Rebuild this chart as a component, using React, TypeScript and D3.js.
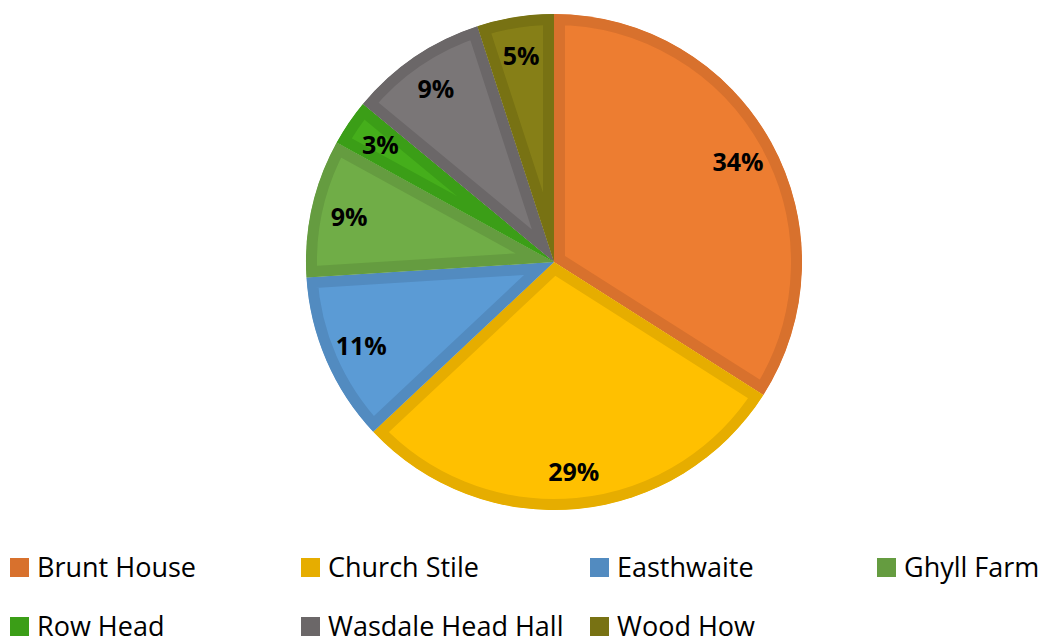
import React from "react";
import * as d3 from "d3";

const categories = ["Brunt House", "Church Stile", "Easthwaite", "Ghyll Farm", "Row Head", "Wasdale Head Hall", "Wood How"];
const values = [34, 29, 11, 9, 3, 9, 5];
const fillColors = ["#ED7D31", "#FFC000", "#5B9BD5", "#70AD47", "#45AE1B", "#7A7677", "#867F17"];
const borderColors = ["#D8712D", "#E6AD00", "#528BC0", "#659C40", "#3B9E17", "#6B6768", "#787213"];

const W = 1049;
const H = 641;
const cx = 554;
const cy = 262;
const R = 248;
const labelR = 210;

export default function App() {
  const pie = d3.pie<number>().sort(null).startAngle(0).endAngle(2 * Math.PI);
  const arcs = pie(values);
  const arc = d3.arc<d3.PieArcDatum<number>>().innerRadius(0).outerRadius(R);
  const labelArc = d3.arc<d3.PieArcDatum<number>>().innerRadius(labelR).outerRadius(labelR);
  const total = d3.sum(values);

  const colX = [10, 301, 590, 877];
  const rowY = [577, 636];

  return (
    <svg width={W} height={H} style={{ position: "absolute", left: 0, top: 0 }}>
      <defs>
        {arcs.map((a, i) => (
          <clipPath id={`clip${i}`} key={i}>
            <path d={arc(a) || ""} />
          </clipPath>
        ))}
      </defs>
      <g transform={`translate(${cx},${cy})`}>
        {arcs.map((a, i) => (
          <path
            key={i}
            d={arc(a) || ""}
            fill={fillColors[i]}
            stroke={borderColors[i]}
            strokeWidth={22}
            strokeLinejoin="miter"
            clipPath={`url(#clip${i})`}
          />
        ))}
        {arcs.map((a, i) => {
          const [x, y] = labelArc.centroid(a);
          return (
            <text
              key={i}
              x={x}
              y={y}
              textAnchor="middle"
              dominantBaseline="central"
              fontFamily="'Open Sans', sans-serif"
              fontWeight="bold"
              fontSize={25}
              fill="#000"
            >
              {`${Math.round((values[i] / total) * 100)}%`}
            </text>
          );
        })}
      </g>
      {categories.map((c, i) => {
        const col = i % 4;
        const row = Math.floor(i / 4);
        const x = colX[col];
        const y = rowY[row];
        return (
          <g key={c}>
            <rect x={x} y={y - 19} width={19} height={19} fill={borderColors[i]} />
            <text x={x + 27} y={y} fontFamily="'Open Sans', sans-serif" fontSize={27} fill="#000">
              {c}
            </text>
          </g>
        );
      })}
    </svg>
  );
}
